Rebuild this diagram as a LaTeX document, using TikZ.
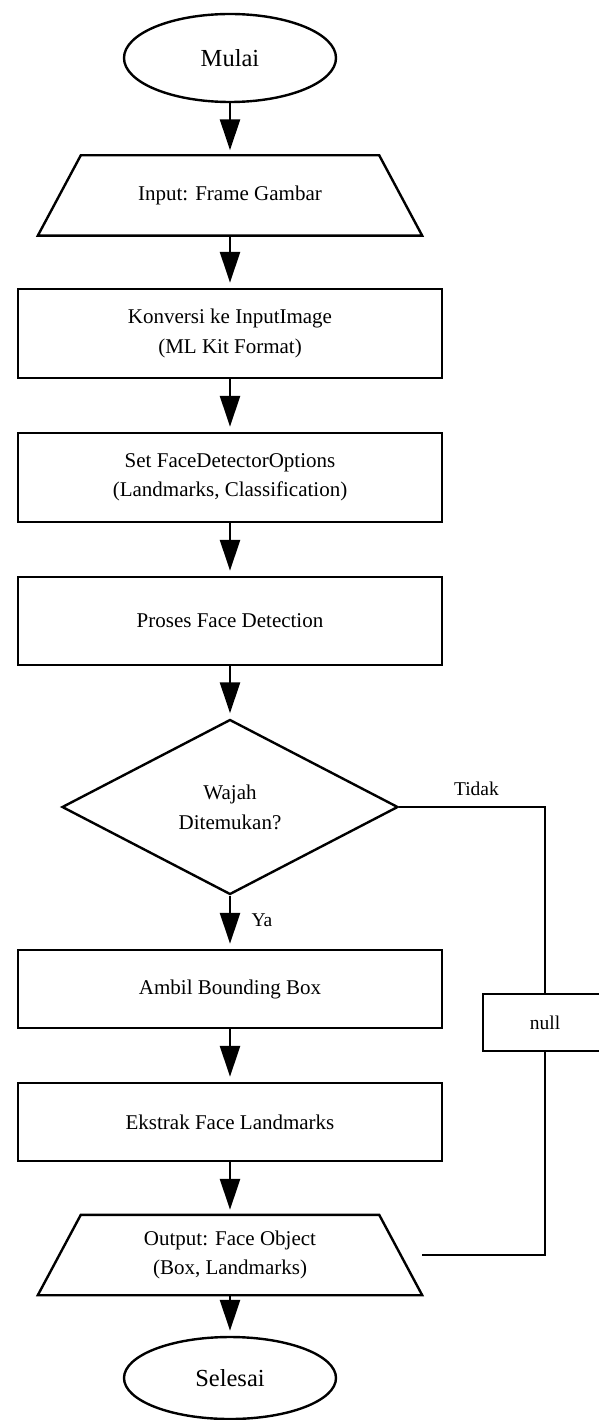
\documentclass[tikz,border=0pt]{standalone}
\usepackage{fontspec}
\setmainfont{Liberation Serif}
\usetikzlibrary{shapes.geometric,arrows.meta}
\tikzset{
  base/.style={draw, line width=2.4pt, align=center, inner sep=0pt,
    font=\fontsize{21}{29.5}\selectfont},
  term/.style={base, ellipse, minimum width=212pt, minimum height=88pt,
    font=\fontsize{24.5}{30}\selectfont},
  proc/.style={base, rectangle, minimum width=424pt},
  io/.style={base, draw=none, rectangle, minimum width=382pt, minimum height=78pt},
  ioborder/.style={line width=2.4pt, line join=miter},
  decision/.style={base, diamond, minimum width=336pt, minimum height=175pt,
    font=\fontsize{21}{30}\selectfont},
  flow/.style={line width=2.4pt, -{Triangle[length=31pt,width=20pt]}, shorten >=5pt},
  link/.style={line width=2.4pt},
  lbl/.style={font=\fontsize{19.5}{24}\selectfont}
}
\begin{document}
\begin{tikzpicture}[x=1pt,y=-1pt]
\useasboundingbox (0,0) rectangle (599,1420);
\clip (0,0) rectangle (599,1420);
\fill[white] (0,0) rectangle (599,1420);

\node[term] (start) at (230,58) {Mulai};
\node[io] (inp) at (230,195.5) {Input: Frame Gambar};
\draw[ioborder] (inp.south west) -- (inp.south east) -- ([xshift=-43pt]inp.north east) -- ([xshift=43pt]inp.north west) -- cycle;
\node[proc, minimum height=89pt] (conv) at (230,333.5) {Konversi ke InputImage\\(ML Kit Format)};
\node[proc, minimum height=89pt] (opt) at (230,477.5) {Set FaceDetectorOptions\\(Landmarks, Classification)};
\node[proc, minimum height=88pt] (det) at (230,621) {Proses Face Detection};
\node[decision] (dec) at (230,807) {Wajah\\Ditemukan?};
\node[proc, minimum height=78pt] (bbox) at (230,989) {Ambil Bounding Box};
\node[proc, minimum height=78pt] (lmk) at (230,1122) {Ekstrak Face Landmarks};
\node[io] (out) at (230,1255) {Output: Face Object\\(Box, Landmarks)};
\draw[ioborder] (out.south west) -- (out.south east) -- ([xshift=-43pt]out.north east) -- ([xshift=43pt]out.north west) -- cycle;
\node[term, minimum height=82pt] (stop) at (230,1378) {Selesai};
\node[base, lbl, minimum width=124pt, minimum height=57pt] (nul) at (545,1022.5) {null};

\draw[flow] (start) -- (inp);
\draw[flow] (inp) -- (conv);
\draw[flow] (conv) -- (opt);
\draw[flow] (opt) -- (det);
\draw[flow] (det) -- (dec);
\draw[flow] (dec) -- node[lbl, right, pos=0.47, xshift=17pt] {Ya} (bbox);
\draw[flow] (bbox) -- (lmk);
\draw[flow] (lmk) -- (out);
\draw[flow] (out) -- (stop);

\draw[link] (dec.east) -- node[lbl, above, pos=0.53, yshift=7pt] {Tidak} (dec.east -| nul.north) -- (nul.north);
\draw[link] (nul.south) |- (out.east);
\end{tikzpicture}
\end{document}
